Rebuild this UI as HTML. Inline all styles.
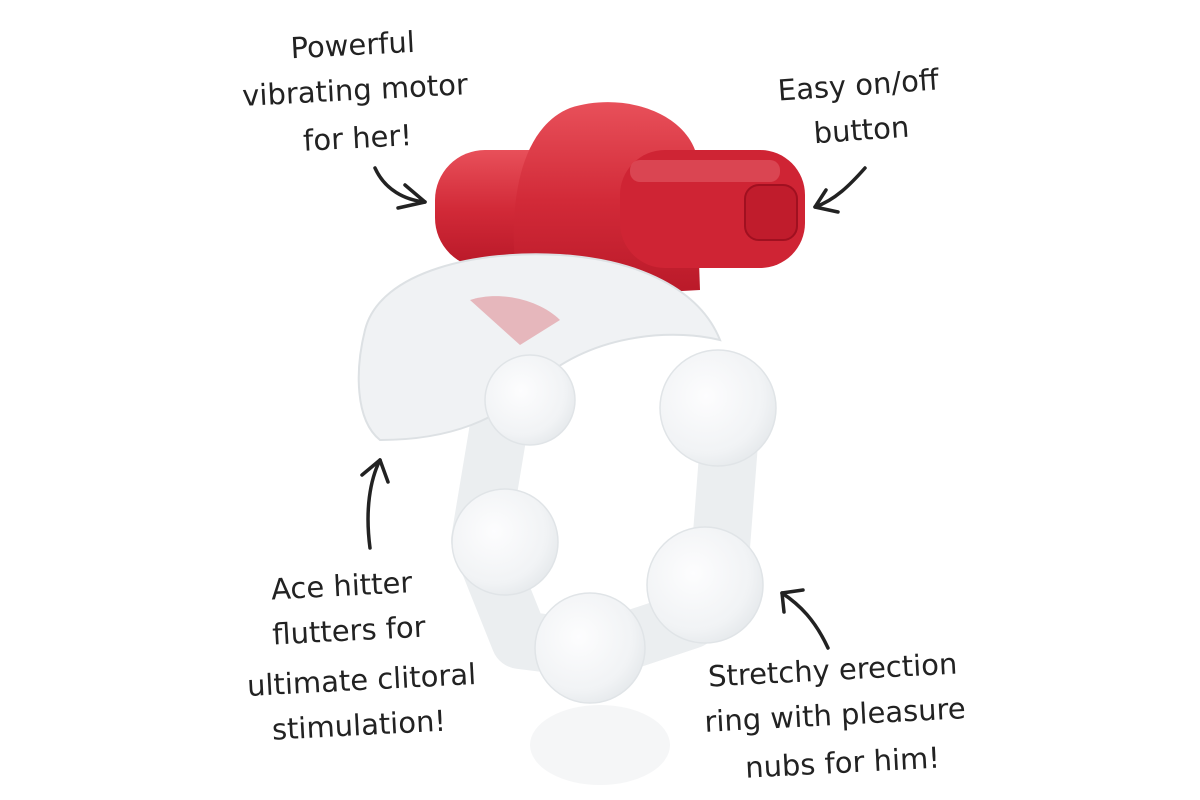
<!DOCTYPE html>
<html><head><style>
html,body{margin:0;padding:0;background:#fff;}
svg{display:block;}
text{font-family:"DejaVu Sans","Liberation Sans",sans-serif;fill:#222;font-size:29px;}
</style></head><body>
<svg width="1200" height="800" viewBox="0 0 1200 800" xmlns="http://www.w3.org/2000/svg">
<defs>
<linearGradient id="red" x1="0" y1="0" x2="0" y2="1">
<stop offset="0" stop-color="#e8505a"/><stop offset="0.5" stop-color="#d22a38"/><stop offset="1" stop-color="#b81828"/></linearGradient>
<radialGradient id="bead" cx="0.4" cy="0.4" r="0.7">
<stop offset="0" stop-color="#fdfdfe"/><stop offset="0.7" stop-color="#f1f3f5"/><stop offset="1" stop-color="#e2e6e9"/></radialGradient>
</defs>
<rect width="1200" height="800" fill="#fff"/>
<!-- red bullet -->
<rect x="435" y="150" width="370" height="118" rx="50" fill="url(#red)"/>
<path d="M520 300 C505 220 515 130 570 108 C620 92 680 110 695 150 L700 290 Z" fill="url(#red)"/>
<rect x="620" y="150" width="185" height="118" rx="45" fill="#cf2434"/>
<rect x="630" y="160" width="150" height="22" rx="10" fill="#e56670" opacity="0.5"/>
<rect x="745" y="185" width="52" height="55" rx="14" fill="#c01c2c" stroke="#a01020" stroke-width="2"/>
<!-- ring tubes -->
<path d="M500 420 L480 540 L520 640 L600 650 L690 620 L720 560 L730 430" fill="none" stroke="#ebeef0" stroke-width="58" stroke-linejoin="round"/>
<!-- clear flap -->
<path d="M365 330 C380 270 480 250 560 255 C640 260 700 290 720 340 C680 330 600 330 540 380 C500 420 450 440 380 440 C355 420 355 370 365 330Z" fill="#f0f2f4" stroke="#dde1e4" stroke-width="2"/>
<path d="M470 300 C500 290 540 300 560 320 L520 345 Z" fill="#d8606a" opacity="0.4"/>
<circle cx="530" cy="400" r="45" fill="url(#bead)" stroke="#e0e4e7" stroke-width="1.5"/>
<circle cx="718" cy="408" r="58" fill="url(#bead)" stroke="#e0e4e7" stroke-width="1.5"/>
<circle cx="505" cy="542" r="53" fill="url(#bead)" stroke="#e0e4e7" stroke-width="1.5"/>
<circle cx="705" cy="585" r="58" fill="url(#bead)" stroke="#e0e4e7" stroke-width="1.5"/>
<circle cx="590" cy="648" r="55" fill="url(#bead)" stroke="#e0e4e7" stroke-width="1.5"/>
<ellipse cx="600" cy="745" rx="70" ry="40" fill="#f5f6f7"/>
<!-- text -->
<g transform="rotate(-3 355 90)">
<text x="355" y="55" text-anchor="middle">Powerful</text>
<text x="355" y="100" text-anchor="middle">vibrating motor</text>
<text x="355" y="148" text-anchor="middle">for her!</text></g>
<g transform="rotate(-4 860 110)">
<text x="860" y="95" text-anchor="middle">Easy on/off</text>
<text x="860" y="140" text-anchor="middle">button</text></g>
<g transform="rotate(-3 360 650)">
<text x="345" y="595" text-anchor="middle">Ace hitter</text>
<text x="350" y="640" text-anchor="middle">flutters for</text>
<text x="360" y="690" text-anchor="middle">ultimate clitoral</text>
<text x="355" y="735" text-anchor="middle">stimulation!</text></g>
<g transform="rotate(-3 835 715)">
<text x="835" y="680" text-anchor="middle">Stretchy erection</text>
<text x="835" y="725" text-anchor="middle">ring with pleasure</text>
<text x="840" y="773" text-anchor="middle">nubs for him!</text></g>
<!-- arrows -->
<g fill="none" stroke="#222" stroke-width="3.5" stroke-linecap="round" stroke-linejoin="round">
<path d="M375 168 C385 190 405 200 425 202"/><path d="M405 185 L425 202 L398 208"/>
<path d="M865 168 C850 185 835 200 815 207"/><path d="M826 190 L815 207 L838 212"/>
<path d="M370 548 C365 510 370 480 380 460"/><path d="M362 475 L380 460 L388 482"/>
<path d="M828 648 C815 620 800 605 782 593"/><path d="M784 612 L782 593 L803 590"/>
</g>
</svg>
</body></html>
